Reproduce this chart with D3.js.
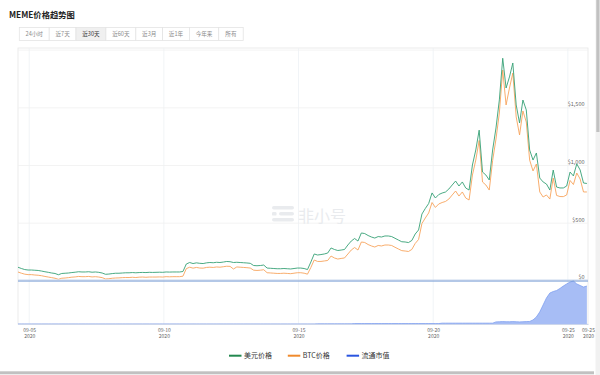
<!DOCTYPE html>
<html><head><meta charset="utf-8">
<script src="https://cdn.jsdelivr.net/npm/d3@7"></script>
<style>body{margin:0;background:#fff;overflow:hidden}svg{display:block}</style>
</head><body>
<svg id="c" width="600" height="375"></svg>
<script>
const title = "MEME价格趋势图";
const rangeButtons = ["24小时","近7天","近30天","近60天","近3月","近1年","今年来","所有"];
const selectedRange = "近30天";
const startTime = "2020-09-04 14:00";
const endTime = "2020-09-25 18:00";
const stepHours = 3;
const usdPrice = [114,103,94,90,90,88,86,81,75,70,64,60,49,60,62,64,68,71,75,73,
73,75,71,73,70,64,53,55,59,62,62,64,66,66,68,66,68,69,68,70,
69,70,71,70,73,72,73,73,73,77,142,155,146,152,148,146,152,155,153,157,
155,159,164,162,155,157,155,153,151,148,129,127,129,133,107,105,103,101,101,103,
101,99,103,107,107,103,94,159,229,220,224,229,237,281,268,259,263,268,307,341,
363,341,411,406,389,376,367,380,376,385,385,380,365,350,335,333,328,346,402,437,
575,623,666,758,714,744,757,766,792,827,861,818,853,801,783,1000,1130,1302,939,913,
870,1130,1321,1564,1925,1667,1763,1884,1520,1364,1563,1477,1130,1043,1104,887,853,835,783,956,
809,801,801,818,939,905,1009,957,844,840];
const btcPrice = [0.0125,0.0115,0.0107,0.0103,0.0103,0.0100,0.0098,0.0094,0.0088,0.0083,0.0078,0.0073,0.0064,0.0073,0.0075,0.0078,0.0082,0.0084,0.0088,0.0086,
0.0086,0.0088,0.0084,0.0086,0.0083,0.0078,0.0067,0.0069,0.0073,0.0075,0.0076,0.0078,0.0079,0.0079,0.0081,0.0079,0.0082,0.0083,0.0081,0.0083,
0.0083,0.0083,0.0084,0.0083,0.0086,0.0085,0.0086,0.0086,0.0086,0.0090,0.0153,0.0165,0.0157,0.0163,0.0158,0.0157,0.0163,0.0165,0.0163,0.0167,
0.0165,0.0169,0.0173,0.0172,0.0150,0.0167,0.0165,0.0163,0.0161,0.0158,0.0140,0.0138,0.0140,0.0144,0.0119,0.0117,0.0115,0.0113,0.0113,0.0115,
0.0113,0.0111,0.0115,0.0119,0.0119,0.0115,0.0107,0.0163,0.0225,0.0213,0.0213,0.0217,0.0221,0.0258,0.0242,0.0233,0.0238,0.0242,0.0275,0.0308,
0.0329,0.0308,0.0375,0.0371,0.0354,0.0342,0.0333,0.0346,0.0342,0.0350,0.0350,0.0346,0.0331,0.0317,0.0303,0.0300,0.0296,0.0313,0.0363,0.0396,
0.0529,0.0575,0.0617,0.0704,0.0663,0.0692,0.0704,0.0713,0.0733,0.0767,0.0800,0.0758,0.0792,0.0742,0.0725,0.0933,0.1058,0.1221,0.0875,0.0850,
0.0808,0.1054,0.1233,0.1450,0.1808,0.1517,0.1658,0.1783,0.1417,0.1267,0.1467,0.1375,0.1058,0.0967,0.1025,0.0792,0.0750,0.0767,0.0733,0.0908,
0.0763,0.0754,0.0753,0.0767,0.0888,0.0854,0.0950,0.0900,0.0792,0.0792];
const marketCapM = [0,0,0,0,0,0,0,0,0,0,0,0,0,0,0,0,0,0,0,0,
0,0,0,0,0,0,0,0,0,0,0,0,0,0,0,0,0,0,0,0,
0,0,0,0,0,0,0,0,0,0,0,0,0,0,0,0,0,0,0,0,
0,0,0,0,0,0,0,0,0,0,0,0,0,0,0,0,0,0,0,0,
0,0,0,0,0,0,0,0,0,0.1,0.1,0.1,0.1,0.1,0.1,0.1,0.1,0.1,0.1,0.1,
0.3,0.3,0.3,0.3,0.3,0.3,0.3,0.3,0.3,0.3,0.3,0.3,0.3,0.3,0.3,0.3,0.3,0.3,0.3,0.3,
0.3,0.3,0.3,0.3,0.3,0.3,0.6,0.6,0.6,0.6,0.6,0.6,0.6,0.6,0.6,0.6,0.6,0.6,0.6,0.6,
0.6,0.6,1.5,1.6,1.7,1.6,1.6,1.7,1.6,1.5,1.6,1.7,1.8,2.9,5.0,8.6,13.6,18.6,22.1,23.2,
23.9,25.4,27.1,28.6,30.0,30.7,28.6,27.5,26.4,27.1];
const priceTicks = [0,500,1000,1500];
const dateTicks = ["2020-09-05 00:00","2020-09-10 00:00","2020-09-15 00:00","2020-09-20 00:00","2020-09-25 00:00","2020-09-25 18:00"];
const seriesNames = ["美元价格","BTC价格","流通市值"];
const lineColors = ["#35a075","#f7a45c"];
const legendColors = ["#23884f","#f08a2c","#2a55e0"];

const parse = d3.timeParse("%Y-%m-%d %H:%M");
const t0 = parse(startTime), t1 = parse(endTime);
const dates = usdPrice.map((_, i) => d3.timeHour.offset(t0, i * stepHours));
const rows = dates.map((d, i) => ({d, usd: usdPrice[i], btc: btcPrice[i], mc: marketCapM[i]}));

const svg = d3.select("#c");
const FONT = "'Noto Sans CJK SC','Noto Sans',sans-serif";
const L = 18, R = 588, TOP = 48, MAINB = 281, NAVT = 281, NAVB = 324;

// title
svg.append("text").attr("x", 9).attr("y", 17.5).attr("font-family", FONT)
  .attr("font-size", 8.3).attr("font-weight", "bold").attr("fill", "#222").text(title);

// buttons
const bg = svg.append("g").attr("font-family", FONT).attr("font-size", 5.6);
let bx = 19.3;
rangeButtons.forEach(b => {
  const t = bg.append("text").attr("y", 36).attr("text-anchor", "middle")
    .attr("fill", b === selectedRange ? "#333" : "#8a8a8a").text(b);
  const w = Math.max(24.5, t.node().getComputedTextLength() + 12.5);
  bg.insert("rect", "text").attr("x", bx).attr("y", 27.5).attr("width", w).attr("height", 13)
    .attr("fill", b === selectedRange ? "#f0f0f0" : "#fff").attr("stroke", "#e4e4e4").attr("stroke-width", 0.8);
  t.attr("x", bx + w / 2);
  bx += w;
});

// scales
const x = d3.scaleTime().domain([t0, t1]).range([L, R]);
const yUsd = d3.scaleLinear().domain([0, 2000]).range([280.4, 49.6]);
const yBtc = d3.scaleLinear().domain([0, 0.2]).range([287, 47]);
const yMc = d3.scaleLinear().domain([0, 30]).range([NAVB, 282]);
const tickDates = dateTicks.map(parse);

// frame
svg.append("rect").attr("x", L).attr("y", TOP).attr("width", R - L).attr("height", NAVB - TOP)
  .attr("fill", "none").attr("stroke", "#e6e6e6").attr("stroke-width", 0.8);

// vertical grid
svg.append("g").selectAll("line").data(tickDates.slice(0, 5)).join("line")
  .attr("x1", d => x(d)).attr("x2", d => x(d)).attr("y1", TOP).attr("y2", NAVB)
  .attr("stroke", "#eef1f5").attr("stroke-width", 0.8);

// horizontal grid
const gridAxis = d3.axisRight(yUsd).tickValues(priceTicks.concat([2000])).tickSize(-(R - L)).tickFormat("");
const gg = svg.append("g").attr("transform", `translate(${R},0)`).call(gridAxis);
gg.select(".domain").remove();
gg.selectAll("line").attr("stroke", "#f0f0f0").attr("stroke-width", 0.8);

// right labels
const labAxis = d3.axisLeft(yUsd).tickValues(priceTicks).tickSize(0).tickPadding(0)
  .tickFormat(d => "$" + d3.format(",")(d));
const ga = svg.append("g").attr("transform", "translate(584.5,0)").call(labAxis);
ga.select(".domain").remove();
ga.selectAll("text").attr("font-family", FONT).attr("font-size", 5.5).attr("fill", "#666")
  .attr("dy", "-0.3em");

// watermark
const wm = svg.append("g").attr("fill", "#e9ebee");
wm.append("rect").attr("x", 272).attr("y", 206).attr("width", 22).attr("height", 3.6).attr("rx", 1.8);
wm.append("rect").attr("x", 272).attr("y", 212).attr("width", 4.5).attr("height", 3.6).attr("rx", 1.2);
wm.append("rect").attr("x", 279).attr("y", 212).attr("width", 15).attr("height", 3.6).attr("rx", 1.8);
wm.append("rect").attr("x", 272).attr("y", 218).attr("width", 22).attr("height", 3.6).attr("rx", 1.8);
wm.append("text").attr("x", 298).attr("y", 221.5).attr("font-family", FONT).attr("font-size", 16)
  .attr("fill", "#e9ebee").text("非小号");

// clip for main
svg.append("defs").append("clipPath").attr("id", "mclip").append("rect")
  .attr("x", L).attr("y", TOP).attr("width", R - L).attr("height", MAINB - TOP);

const main = svg.append("g").attr("clip-path", "url(#mclip)");
main.append("path").datum(rows).attr("fill", "none").attr("stroke", lineColors[1]).attr("stroke-width", 0.9)
  .attr("stroke-linejoin", "round").attr("d", d3.line().x(d => x(d.d)).y(d => yBtc(d.btc)));
main.append("path").datum(rows).attr("fill", "none").attr("stroke", lineColors[0]).attr("stroke-width", 0.9)
  .attr("stroke-linejoin", "round").attr("d", d3.line().x(d => x(d.d)).y(d => yUsd(d.usd)));

// navigator area (market cap)
svg.append("path").datum(rows).attr("fill", "#a7bdf5").attr("stroke", "none")
  .attr("d", d3.area().x(d => x(d.d)).y0(NAVB).y1(d => yMc(d.mc)));
svg.append("path").datum(rows).attr("fill", "none").attr("stroke", "#7f9ff0").attr("stroke-width", 0.8)
  .attr("d", d3.line().x(d => x(d.d)).y(d => yMc(d.mc)));

// navigator top line
svg.append("line").attr("x1", L).attr("x2", R).attr("y1", NAVT).attr("y2", NAVT)
  .attr("stroke", "#6d95d4").attr("stroke-width", 1);
svg.append("line").attr("x1", L).attr("x2", R).attr("y1", 279.6).attr("y2", 279.6)
  .attr("stroke", "#cfdcef").attr("stroke-width", 0.6);

// x axis
const xAxis = d3.axisBottom(x).tickValues(tickDates).tickSize(0).tickPadding(0).tickFormat(d3.timeFormat("%m-%d"));
const gx = svg.append("g").attr("transform", `translate(0,${NAVB})`).call(xAxis);
gx.select(".domain").attr("stroke", "#ccd6eb").attr("stroke-width", 1);
gx.selectAll(".tick text").attr("font-family", FONT).attr("font-size", 5).attr("fill", "#666")
  .attr("y", 7.8).attr("dy", null);
gx.selectAll(".tick").append("text").attr("font-family", FONT).attr("font-size", 5).attr("fill", "#666")
  .attr("text-anchor", "middle").attr("y", 13.8).text(d => d3.timeFormat("%Y")(d));

// legend
const lg = svg.append("g").attr("font-family", FONT).attr("font-size", 7).attr("fill", "#333");
seriesNames.forEach((n, i) => {
  const lx = 229 + i * 58.8;
  lg.append("line").attr("x1", lx).attr("x2", lx + 12.5).attr("y1", 355.7).attr("y2", 355.7)
    .attr("stroke", legendColors[i]).attr("stroke-width", 2);
  lg.append("text").attr("x", lx + 15).attr("y", 358.2).text(n);
});

// scrollbars
svg.append("rect").attr("x", 595.5).attr("y", 0).attr("width", 4.5).attr("height", 375).attr("fill", "#f1f1f1");
svg.append("rect").attr("x", 596.3).attr("y", 0).attr("width", 3.2).attr("height", 132).attr("fill", "#c1c1c1");
svg.append("rect").attr("x", 0).attr("y", 371.3).attr("width", 594).attr("height", 3).attr("fill", "#c1c1c1");
</script>
</body></html>
